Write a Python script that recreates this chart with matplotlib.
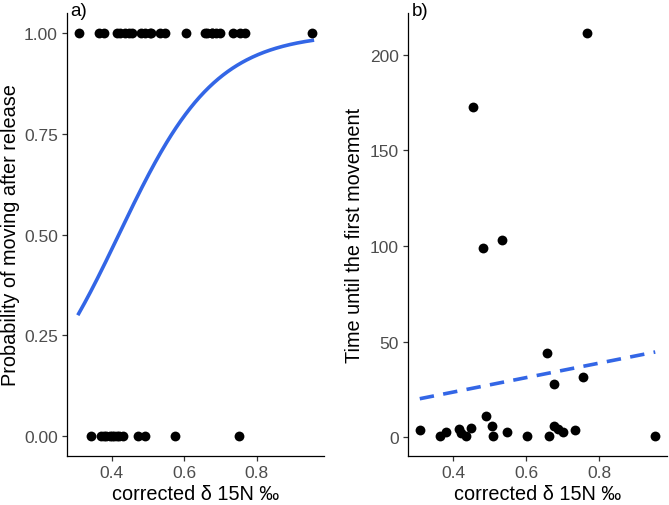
import numpy as np
import matplotlib
matplotlib.use("Agg")
import matplotlib.pyplot as plt

# ---- data ----
moved_x = [0.309, 0.365, 0.380, 0.416, 0.423, 0.436, 0.449, 0.491, 0.507, 0.509,
           0.547, 0.604, 0.658, 0.664, 0.676, 0.678, 0.688, 0.700, 0.734, 0.755,
           0.954, 0.456, 0.482, 0.533, 0.767]
time_first = [3.8, 0.7, 2.9, 4.2, 2.1, 0.7, 4.7, 10.9, 6.1, 0.7,
              2.8, 0.7, 44.1, 0.7, 27.6, 6.1, 4.2, 2.6, 3.8, 31.6,
              0.7, 172.8, 98.9, 102.9, 211.3]
stay_x = [0.343, 0.371, 0.378, 0.385, 0.396, 0.402, 0.407, 0.415, 0.421, 0.432,
          0.474, 0.493, 0.576, 0.751]

x_ticks = [0.4, 0.6, 0.8]
y_ticks_a = [0.00, 0.25, 0.50, 0.75, 1.00]
y_ticks_b = [0, 50, 100, 150, 200]

# ---- fits ----
xa = np.array(moved_x + stay_x)
ya = np.array([1] * len(moved_x) + [0] * len(stay_x), dtype=float)
X = np.column_stack([np.ones_like(xa), xa])
beta = np.zeros(2)
for _ in range(50):
    p = 1 / (1 + np.exp(-X @ beta))
    W = p * (1 - p)
    H = X.T @ (X * W[:, None])
    g = X.T @ (ya - p)
    beta = beta + np.linalg.solve(H, g)
xs = np.linspace(xa.min(), xa.max(), 200)
ps = 1 / (1 + np.exp(-(beta[0] + beta[1] * xs)))

xb = np.array(moved_x)
yb = np.array(time_first)
slope, inter = np.polyfit(xb, yb, 1)
xl = np.linspace(xb.min(), xb.max(), 50)

# ---- figure ----
plt.rcParams['font.family'] = ['Liberation Sans', 'DejaVu Sans']
fig = plt.figure(figsize=(6.69, 5.06), dpi=100)
W_, H_ = 669, 506
def rect(l, r, t, b):
    return [l / W_, 1 - b / H_, (r - l) / W_, (b - t) / H_]
ax1 = fig.add_axes(rect(67, 324, 14, 457))
ax2 = fig.add_axes(rect(408, 667, 14, 457))

blue = '#3366E6'
ax1.scatter(xa, ya, s=50, color='black', zorder=3, linewidths=0)
ax1.plot(xs, ps, color=blue, lw=2.6, zorder=2)
ax2.scatter(xb, yb, s=50, color='black', zorder=3, linewidths=0)
ax2.plot(xl, inter + slope * xl, color=blue, lw=2.6, ls=(0, (4, 2.6)), zorder=2)

def xlim_for(v):
    lo, hi = min(v), max(v)
    d = (hi - lo) * 0.05
    return lo - d, hi + d

for ax in (ax1, ax2):
    ax.set_xlim(*xlim_for(list(xa)))
    ax.set_xticks(x_ticks)
    ax.set_xticklabels([f"{t:.1f}" for t in x_ticks])
    for s in ('top', 'right'):
        ax.spines[s].set_visible(False)
    for s in ('left', 'bottom'):
        ax.spines[s].set_linewidth(0.9)
    ax.tick_params(colors='#333333', labelsize=12.5, length=3.5, width=0.9, labelcolor='#4D4D4D', pad=3)
    ax.set_xlabel('corrected δ 15N ‰', fontsize=14.3, labelpad=3)

ax1.set_ylim(-0.05, 1.05)
ax1.set_yticks(y_ticks_a)
ax1.set_yticklabels([f"{t:.2f}" for t in y_ticks_a])
ax1.set_ylabel('Probability of moving after release', fontsize=14.3, labelpad=3)

rng = max(yb) - min(yb)
ax2.set_ylim(min(yb) - 0.05 * rng, max(yb) + 0.05 * rng)
ax2.set_yticks(y_ticks_b)
ax2.set_ylabel('Time until the first movement', fontsize=14.3, labelpad=4)

fig.text(70 / W_, 1 - 12 / H_, 'a)', fontsize=13.5, va='center', ha='left')
fig.text(412 / W_, 1 - 12 / H_, 'b)', fontsize=13.5, va='center', ha='left')

fig.savefig('out.png', dpi=100)
